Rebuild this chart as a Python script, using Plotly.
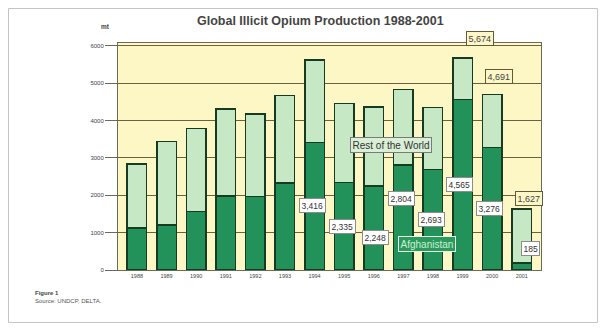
import plotly.graph_objects as go

years = ["1988", "1989", "1990", "1991", "1992", "1993", "1994",
         "1995", "1996", "1997", "1998", "1999", "2000", "2001"]
afghanistan = [1120, 1200, 1570, 1980, 1970, 2330, 3416,
               2335, 2248, 2804, 2693, 4565, 3276, 185]
total = [2840, 3430, 3780, 4300, 4170, 4660, 5620,
         4452, 4355, 4823, 4346, 5674, 4691, 1627]
rest_of_world = [t - a for t, a in zip(total, afghanistan)]
y_ticks = [0, 1000, 2000, 3000, 4000, 5000, 6000]

# label pixel centres on screen (layout only)
afg_label_years = ["1994", "1995", "1996", "1997", "1998", "1999", "2000", "2001"]
afg_label_px = [(312, 205), (342, 226), (375, 237), (401, 198), (431, 219),
                (459, 184), (489, 208), (530, 248)]
tot_label_years = ["1999", "2000", "2001"]
tot_label_px = [(480, 38), (499, 76), (529, 198)]

OFF = 8  # browser body margin
W, H = 590, 315
L, R, T, B = 110, 57, 35, 53
pw, ph = W - L - R, H - T - B


def px2paper(x, y):
    return (x - OFF - L) / pw, (H - B - (y - OFF)) / ph


DARK = "#23915a"
LIGHT = "#c6e8c4"
EDGE = "#173a22"
FONT = "Liberation Sans"
idx = list(range(len(years)))

fig = go.Figure()
fig.add_trace(go.Bar(x=idx, y=afghanistan, marker=dict(color=DARK, line=dict(color=EDGE, width=1.5)),
                     width=0.66, name="Afghanistan"))
fig.add_trace(go.Bar(x=idx, y=rest_of_world, marker=dict(color=LIGHT, line=dict(color=EDGE, width=1.5)),
                     width=0.66, name="Rest of the World"))

ann = []


def add(px, py, text, **kw):
    xx, yy = px2paper(px, py)
    d = dict(x=xx, y=yy, xref="paper", yref="paper", text=text, showarrow=False,
             xanchor="center", yanchor="middle")
    d.update(kw)
    ann.append(d)


for yr, (px, py) in zip(afg_label_years, afg_label_px):
    v = afghanistan[years.index(yr)]
    add(px, py, f"{v:,}", font=dict(size=8.5, color="#333333", family=FONT),
        bgcolor="#ffffff", bordercolor="#8c8c8c", borderwidth=1, borderpad=1.5)
for yr, (px, py) in zip(tot_label_years, tot_label_px):
    v = total[years.index(yr)]
    add(px, py, f"{v:,}", font=dict(size=9, color="#444444", family=FONT),
        bgcolor="#fdf7c8", bordercolor="#5e5a3a", borderwidth=1, borderpad=1.5)
add(391, 145, "Rest of the World", font=dict(size=10, color="#333333", family=FONT),
    bgcolor="#d9efd6", bordercolor="#7a7a7a", borderwidth=1, borderpad=1.5)
add(427, 244, "Afghanistan", font=dict(size=10, color="#c9f0d2", family=FONT),
    bgcolor="#2a9a5c", bordercolor="#e8f5e8", borderwidth=1, borderpad=1.5)
add(320, 21, "<b>Global Illicit Opium Production 1988-2001</b>",
    font=dict(size=12.5, color="#444444", family=FONT))
add(105, 26, "<b>mt</b>", font=dict(size=6.5, color="#444444", family=FONT))
add(33, 293, "<b>Figure 1</b>", xanchor="left", font=dict(size=6, color="#444444", family=FONT))
add(33, 301, "Source: UNDCP, DELTA.", xanchor="left", font=dict(size=6, color="#555555", family=FONT))

shapes = [dict(type="rect", xref="paper", yref="paper",
               x0=(0.5 - L) / pw, x1=(W - 0.5 - L) / pw,
               y0=-(B - 0.5) / ph, y1=(H - B - 0.5) / ph,
               line=dict(color="#c4c4c4", width=1), layer="below")]

fig.update_layout(
    width=W, height=H, margin=dict(l=L, r=R, t=T, b=B),
    barmode="stack", showlegend=False,
    paper_bgcolor="#ffffff", plot_bgcolor="#fdf7c6",
    annotations=ann, shapes=shapes,
    xaxis=dict(range=[-0.64, 13.65], tickvals=idx, ticktext=years, showgrid=False,
               tickfont=dict(size=5.5, color="#444444", family=FONT),
               showline=True, linecolor="#6a6a5a", linewidth=1, mirror=True, ticks="", zeroline=False),
    yaxis=dict(range=[0, 6070], tickvals=y_ticks, ticktext=[str(v) for v in y_ticks],
               showgrid=True, gridcolor="#6b6040", gridwidth=1,
               tickfont=dict(size=6, color="#444444", family=FONT),
               ticks="outside", ticklen=12, tickcolor="#6a6a5a",
               showline=True, linecolor="#6a6a5a", linewidth=1, mirror=True, zeroline=False),
)

fig.write_html("out.html")
